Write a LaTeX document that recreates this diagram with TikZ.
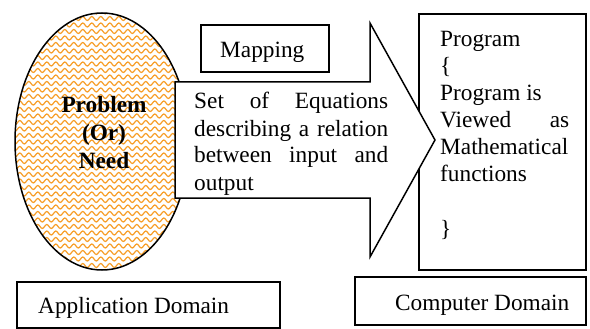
\documentclass[tikz,border=0pt]{standalone}
\usepackage{fontspec}
\setmainfont{Liberation Serif}
\usetikzlibrary{shapes.geometric,decorations.pathmorphing}
\definecolor{waveorange}{RGB}{247,158,40}
\begin{document}
\begin{tikzpicture}[x=1pt,y=-1pt,
  outline/.style={draw=black, line width=1.5pt},
  panel/.style={outline, fill=white, inner sep=0pt},
  word/.style={inner sep=0pt, anchor=base west, font=\fontsize{23.3}{26.8}\selectfont},
  midword/.style={word, anchor=base, font=\fontsize{23.3}{26.8}\selectfont\bfseries},
  wave/.style={draw=waveorange, line width=1.2pt, decorate,
    decoration={snake, segment length=9pt, amplitude=2pt}}]
\useasboundingbox (0,0) rectangle (590,329);

% problem ellipse with wavy orange hatching
\node[ellipse, fill=white, inner sep=0pt, minimum width=174pt, minimum height=257pt] (need) at (102,141.5) {};
\begin{scope}
  \clip (need.center) ellipse [x radius=87pt, y radius=128.5pt];
  \foreach \r in {0,...,40}
    \draw[wave] (8,{12+\r*6.5}) -- (200,{12+\r*6.5});
\end{scope}
\draw[outline] (need.center) ellipse [x radius=87pt, y radius=128.5pt];

% computer side: program box (drawn before the arrow, which overlaps its edge)
\node[panel, minimum width=167pt, minimum height=256pt] (prog) at (502.5,142) {};

% block arrow for the mapping
\coordinate (a1) at (175,82);
\coordinate (a2) at (370,82);
\coordinate (a3) at (370,23);
\coordinate (tip) at (435,140);
\coordinate (a5) at (370,257);
\coordinate (a6) at (370,198);
\coordinate (a7) at (175,198);
\draw[outline, fill=white, line join=miter] (a1) -- (a2) -- (a3) -- (tip) -- (a5) -- (a6) -- (a7) -- cycle;

% labels in boxes
\node[panel, minimum width=128pt, minimum height=47pt] (map) at (265,48.5) {};
\node[panel, minimum width=263pt, minimum height=46pt] (appdom) at (148.5,305) {};
\node[panel, minimum width=231pt, minimum height=48pt] (compdom) at (470.5,301) {};

\node[word] (maptxt) at (220,58) {Mapping};
\node[word] (apptxt) at (38,313) {Application Domain};
\node[word] (comptxt) at (395,310) {Computer Domain};

% ellipse text
\node[midword] (p1) at (104,113) {Problem};
\node[midword] (p2) at (104,140.5) {(Or)};
\node[midword] (p3) at (104,168) {Need};

% arrow text, justified
\node[word] (e1) at (194,109) {\makebox[194pt][s]{Set of Equations}};
\node[word] (e2) at (194,136) {\makebox[194pt][s]{describing a relation}};
\node[word] (e3) at (194,163) {\makebox[194pt][s]{between input and}};
\node[word] (e4) at (194,190) {output};

% program text
\node[word] (g1) at (440,47) {Program};
\node[word] (g2) at (440,74) {\{};
\node[word] (g3) at (440,101) {Program is};
\node[word] (g4) at (440,128) {\makebox[129pt][s]{Viewed as}};
\node[word] (g5) at (440,155) {Mathematical};
\node[word] (g6) at (440,182) {functions};
\node[word] (g7) at (440,236) {\}};
\end{tikzpicture}
\end{document}
